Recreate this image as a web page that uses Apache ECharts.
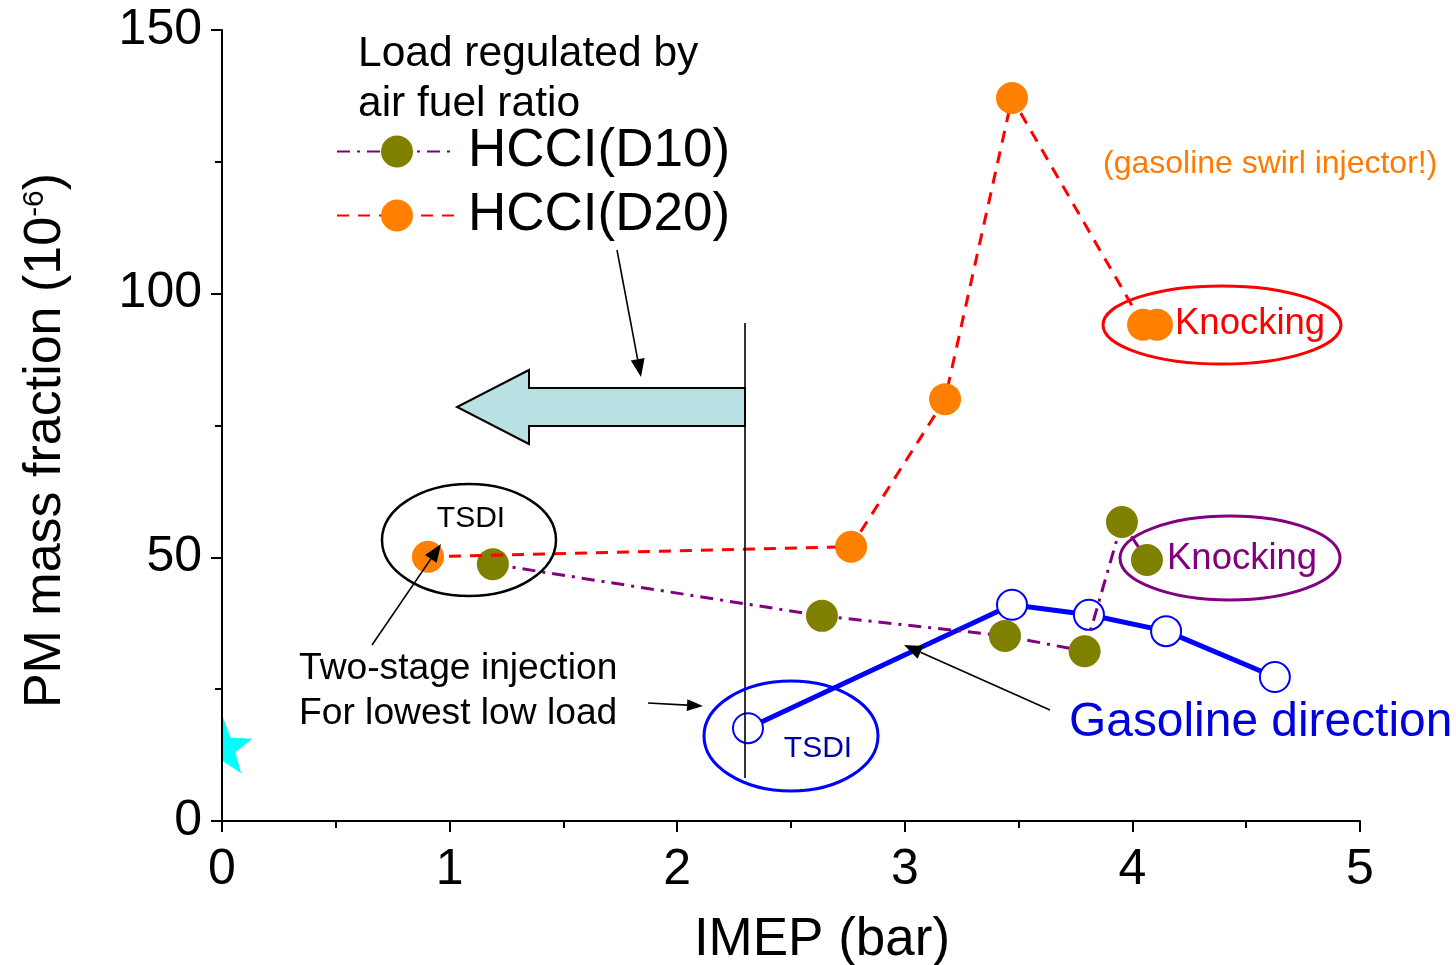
<!DOCTYPE html>
<html><head><meta charset="utf-8">
<script src="https://cdn.jsdelivr.net/npm/echarts@6/dist/echarts.min.js"></script>
<style>html,body{margin:0;padding:0;background:#fff}#c{width:1456px;height:965px}</style>
</head><body><div id="c"></div>
<script>
// ---- data ----
const xTickLabels = ['0','1','2','3','4','5'];
const yTickLabels = ['0','50','100','150'];
const d10Name = 'HCCI(D10)';
const d10X = [1.19, 2.636, 3.44, 3.79, 3.954, 4.064];
const d10Y = [48.7, 38.9, 35.1, 32.2, 56.7, 49.5];
const d20Name = 'HCCI(D20)';
const d20X = [0.905, 2.764, 3.177, 3.471, 4.047, 4.108];
const d20Y = [50.1, 52.0, 80.0, 137.1, 94.1, 94.1];
const gasName = 'Gasoline';
const gasX = [2.311, 3.471, 3.809, 4.148, 4.626];
const gasY = [17.6, 41.0, 39.1, 36.0, 27.3];
const starX = [0];
const starY = [13.8];

const FONT = "'Liberation Sans', Arial, sans-serif";
const zip = (a, b) => a.map((v, i) => [v, b[i]]);

function arrow(x1, y1, x2, y2, hl, hw, color, lw) {
  const dx = x2 - x1, dy = y2 - y1, L = Math.hypot(dx, dy);
  const ux = dx / L, uy = dy / L, px = -uy, py = ux;
  const bx = x2 - ux * hl, by = y2 - uy * hl;
  return [
    {type: 'line', shape: {x1, y1, x2: bx, y2: by}, style: {stroke: color, lineWidth: lw}, z: 50},
    {type: 'polygon', shape: {points: [[x2, y2], [bx + px * hw / 2, by + py * hw / 2], [bx - px * hw / 2, by - py * hw / 2]]},
     style: {fill: color}, z: 50}
  ];
}
function txt(x, y, text, size, color, align) {
  return {type: 'text', x, y, z: 60, style: {text, fontSize: size, fontFamily: FONT, fill: color,
    align: align || 'left', verticalAlign: 'middle'}};
}
function ell(cx, cy, rx, ry, color, lw) {
  return {type: 'ellipse', shape: {cx, cy, rx, ry}, style: {fill: 'none', stroke: color, lineWidth: lw}, z: 40};
}

const chart = echarts.init(document.getElementById('c'));
const graphics = [
  // block arrow
  {type: 'polygon', z: 30, shape: {points: [[745, 388], [529, 388], [529, 370], [457, 407], [529, 444], [529, 426], [745, 426]]},
   style: {fill: '#b9e0e3', stroke: '#000', lineWidth: 2}},
  {type: 'line', z: 35, shape: {x1: 745, y1: 323, x2: 745, y2: 778}, style: {stroke: '#000', lineWidth: 1.6}},
  txt(358, 54, 'Load regulated by', 42.5, '#000'),
  txt(358, 104, 'air fuel ratio', 42.5, '#000'),
  txt(1103, 164, '(gasoline swirl injector!)', 32, '#ff7a00'),
  ell(1222, 325, 119, 39, '#ff0000', 3),
  txt(1175, 324, 'Knocking', 36.5, '#ff0000'),
  ell(1230, 558, 110, 42, '#800080', 3),
  txt(1167, 559, 'Knocking', 36.5, '#800080'),
  ell(469, 540, 87, 56, '#000', 2.5),
  txt(471, 519, 'TSDI', 30, '#000', 'center'),
  ell(791, 736, 87, 55, '#0000ff', 3),
  txt(818, 749, 'TSDI', 30, '#0000a8', 'center'),
  txt(299, 669, 'Two-stage injection', 37.2, '#000'),
  txt(299, 714, 'For lowest low load', 37.2, '#000'),
  txt(1069, 723, 'Gasoline direction', 47.9, '#0000dd'),
  ...arrow(617, 250, 641, 377, 18, 14, '#000', 1.6),
  ...arrow(372, 645, 441, 544, 18, 14, '#000', 1.6),
  ...arrow(648, 703, 703, 706, 16, 12, '#000', 1.6),
  ...arrow(1050, 710, 904, 645, 18, 14, '#000', 1.6)
];

const option = {
  backgroundColor: '#fff',
  animation: false,
  textStyle: {fontFamily: FONT},
  grid: {left: 222, right: 96, top: 30, bottom: 144, containLabel: false, outerBoundsMode: 'none'},
  legend: {
    orient: 'vertical', left: 331, top: 120, itemWidth: 120, itemHeight: 40, itemGap: 11,
    data: [d10Name, d20Name],
    textStyle: {fontSize: 53, color: '#000', fontFamily: FONT, padding: [0, 0, 0, 6]}
  },
  xAxis: {
    type: 'value', min: 0, max: 5, interval: 1,
    name: 'IMEP (bar)', nameLocation: 'middle', nameGap: 93,
    nameTextStyle: {fontSize: 53, color: '#000', fontFamily: FONT, padding: [0, 0, 0, 62]},
    axisLine: {onZero: false, lineStyle: {color: '#000', width: 2}},
    axisTick: {show: true, length: 11, inside: false, lineStyle: {color: '#000', width: 2}},
    minorTick: {show: true, splitNumber: 2, length: 7, lineStyle: {color: '#000', width: 2}},
    axisLabel: {fontSize: 50, color: '#000', margin: 24, fontFamily: FONT,
      formatter: v => xTickLabels[Math.round(v)]},
    splitLine: {show: false}
  },
  yAxis: {
    type: 'value', min: 0, max: 150, interval: 50,
    name: '{a|PM mass fraction (10}{s|-6}{a|)}', nameLocation: 'middle', nameGap: 150, nameRotate: 90,
    nameTextStyle: {fontSize: 52, color: '#000', fontFamily: FONT, padding: [0, 30, 0, 0],
      rich: {a: {fontSize: 52, fontFamily: FONT, color: '#000', verticalAlign: 'bottom'},
             s: {fontSize: 30, fontFamily: FONT, color: '#000', verticalAlign: 'top'}}},
    axisLine: {onZero: false, lineStyle: {color: '#000', width: 2}},
    axisTick: {show: true, length: 11, inside: false, lineStyle: {color: '#000', width: 2}},
    minorTick: {show: true, splitNumber: 2, length: 7, lineStyle: {color: '#000', width: 2}},
    axisLabel: {fontSize: 50, color: '#000', margin: 20, fontFamily: FONT,
      formatter: v => yTickLabels[Math.round(v / 50)]},
    splitLine: {show: false}
  },
  series: [
    {
      name: gasName, type: 'line', z: 3, data: zip(gasX, gasY),
      symbol: 'emptyCircle', symbolSize: 30,
      lineStyle: {color: '#0000ff', width: 5},
      itemStyle: {color: '#0000ff', borderColor: '#0000ff', borderWidth: 2.5}
    },
    {
      name: d10Name, type: 'line', z: 4, data: zip(d10X, d10Y),
      symbol: 'circle', symbolSize: 32,
      lineStyle: {color: '#800080', width: 3, type: [13, 7, 3, 7]},
      itemStyle: {color: '#808000'}
    },
    {
      name: d20Name, type: 'line', z: 5, data: zip(d20X, d20Y),
      symbol: 'circle', symbolSize: 32,
      lineStyle: {color: '#ff0000', width: 3, type: [12, 9]},
      itemStyle: {color: '#ff8000'}
    },
    {
      name: 'star', type: 'custom', z: 6, data: zip(starX, starY),
      renderItem: function (params, api) {
        const c = api.coord([api.value(0), api.value(1)]);
        const R = 31, r = R * 0.42;
        const pts = [];
        // right half of a five-pointed star (left half hidden at the axis)
        const angs = [-90, -54, -18, 18, 54, 90];
        angs.forEach((a, i) => {
          const rad = a * Math.PI / 180, rr = (i % 2 === 0) ? R : r;
          pts.push([c[0] + 1 + rr * Math.cos(rad), c[1] + rr * Math.sin(rad)]);
        });
        return {type: 'polygon', shape: {points: pts}, style: {fill: '#00ffff'}};
      }
    }
  ],
  graphic: graphics
};
chart.setOption(option);
</script></body></html>
